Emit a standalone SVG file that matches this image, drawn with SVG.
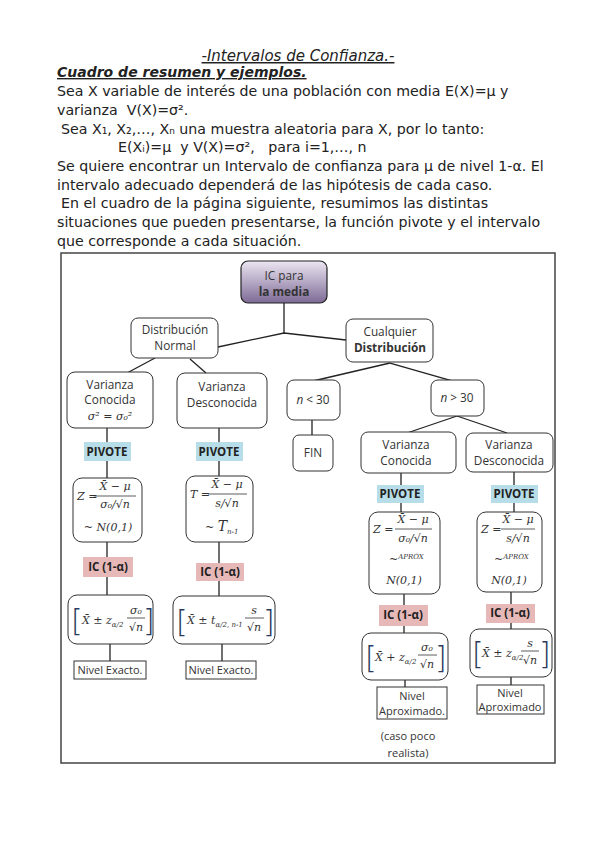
<svg xmlns="http://www.w3.org/2000/svg" width="599" height="848" viewBox="0 0 599 848">
<style>
.body{font-family:"DejaVu Sans",sans-serif;font-size:14.2px;fill:#222}
.nt{font-family:"Open Sans","Liberation Sans",sans-serif;font-size:11.8px;fill:#333;text-anchor:middle}
.sm{font-size:11px}
.b{font-weight:bold}
.rb{fill:#fff;stroke:#333;stroke-width:1}
.lbl{font-family:"Open Sans","Liberation Sans",sans-serif;font-size:11.5px;font-weight:bold;fill:#222;text-anchor:middle}
.piv{fill:#B7DDE8}
.ic{fill:#E6B9B8}
.m{font-family:"DejaVu Serif","Liberation Serif",serif;font-style:italic;font-size:11px;fill:#333}
.ms{font-family:"DejaVu Serif","Liberation Serif",serif;font-style:italic;font-size:7px;fill:#333}
.br{font-family:"DejaVu Sans",sans-serif;font-size:30px;font-weight:200;fill:#2A3A5E}
.bar{stroke:#333;stroke-width:0.8}
.cn line,.cn polyline{stroke:#222;stroke-width:1.3;fill:none}
</style>
<defs>
<linearGradient id="pg" x1="0" y1="0" x2="0" y2="1">
<stop offset="0" stop-color="#ECE6F2"/>
<stop offset="1" stop-color="#7D6A96"/>
</linearGradient>
</defs>
<rect width="599" height="848" fill="#fff"/>

<g id="header">
<text x="298" y="61" text-anchor="middle" font-family="DejaVu Sans,sans-serif" font-size="15" font-style="italic" fill="#222" text-decoration="underline">-Intervalos de Confianza.-</text>
<text x="57" y="77" font-family="DejaVu Sans,sans-serif" font-size="14" font-style="italic" font-weight="bold" fill="#222" text-decoration="underline">Cuadro de resumen y ejemplos.</text>
<text class="body" x="57" y="96">Sea X variable de interés de una población con media E(X)=μ y</text>
<text class="body" x="57" y="115" xml:space="preserve">varianza  V(X)=σ².</text>
<text class="body" x="61" y="134">Sea X₁, X₂,…, Xₙ una muestra aleatoria para X, por lo tanto:</text>
<text class="body" x="118" y="152" xml:space="preserve">E(Xᵢ)=μ  y V(X)=σ²,   para i=1,…, n</text>
<text class="body" x="57" y="171">Se quiere encontrar un Intervalo de confianza para μ de nivel 1-α. El</text>
<text class="body" x="57" y="190">intervalo adecuado dependerá de las hipótesis de cada caso.</text>
<text class="body" x="61" y="208">En el cuadro de la página siguiente, resumimos las distintas</text>
<text class="body" x="57" y="227">situaciones que pueden presentarse, la función pivote y el intervalo</text>
<text class="body" x="57" y="246">que corresponde a cada situación.</text>
</g>

<rect id="frame" x="61" y="253" width="494" height="510" fill="none" stroke="#444" stroke-width="1.5"/>

<g class="cn" id="connectors">
<line x1="284" y1="303" x2="284" y2="333"/>
<polyline points="218,347 284,333 346,340"/>
<line x1="155" y1="358" x2="127" y2="373"/>
<line x1="190" y1="359" x2="206" y2="373"/>
<line x1="390" y1="363" x2="313" y2="381"/>
<line x1="390" y1="363" x2="453" y2="381"/>
<line x1="457" y1="416" x2="407" y2="433"/>
<line x1="457" y1="416" x2="507" y2="433"/>
<line x1="312" y1="420" x2="312" y2="435"/>
<line x1="107" y1="428" x2="107" y2="442"/>
<line x1="219" y1="428" x2="219" y2="442"/>
<line x1="107" y1="461" x2="107" y2="478"/>
<line x1="219" y1="461" x2="219" y2="476"/>
<line x1="107" y1="542" x2="107" y2="557"/>
<line x1="219" y1="542" x2="219" y2="563"/>
<line x1="107" y1="577" x2="107" y2="595"/>
<line x1="219" y1="581" x2="219" y2="596"/>
<line x1="110" y1="644" x2="110" y2="661"/>
<line x1="222" y1="644" x2="222" y2="661"/>
<line x1="401" y1="473" x2="401" y2="486"/>
<line x1="514" y1="472" x2="514" y2="486"/>
<line x1="401" y1="503" x2="401" y2="512"/>
<line x1="514" y1="503" x2="514" y2="512"/>
<line x1="404" y1="594" x2="404" y2="605"/>
<line x1="511" y1="592" x2="511" y2="604"/>
<line x1="404" y1="626" x2="404" y2="633"/>
<line x1="511" y1="623" x2="511" y2="629"/>
<line x1="405" y1="680" x2="405" y2="687"/>
<line x1="511" y1="677" x2="511" y2="686"/>
</g>

<g id="root">
<rect x="241" y="261" width="86" height="42" rx="7" fill="url(#pg)" stroke="#222" stroke-width="1.2"/>
<text class="nt" x="284" y="280" fill="#111">IC para</text>
<text class="nt b" x="284" y="296">la media</text>
</g>

<g id="normal">
<rect class="rb" x="131" y="318" width="87" height="40" rx="7"/>
<text class="nt" x="175" y="334" fill="#1F3A68">Distribución</text>
<text class="nt" x="175" y="350">Normal</text>
</g>

<g id="cualquier">
<rect class="rb" x="346" y="319" width="87" height="43" rx="7"/>
<text class="nt" x="390" y="336">Cualquier</text>
<text class="nt b" x="390" y="352">Distribución</text>
</g>

<g id="var-con">
<rect class="rb" x="67" y="372" width="86" height="56" rx="8"/>
<text class="nt" x="110" y="389">Varianza</text>
<text class="nt" x="110" y="404">Conocida</text>
<text class="m" x="110" y="420" text-anchor="middle">σ² = σ₀²</text>
</g>

<g id="var-des">
<rect class="rb" x="177" y="373" width="90" height="55" rx="8"/>
<text class="nt" x="222" y="391">Varianza</text>
<text class="nt" x="222" y="407">Desconocida</text>
</g>

<g id="n-menor">
<rect class="rb" x="287" y="380" width="53" height="40" rx="7"/>
<text class="nt" x="313" y="404"><tspan font-style="italic">n</tspan> &lt; 30</text>
</g>

<g id="n-mayor">
<rect class="rb" x="431" y="380" width="53" height="36" rx="7"/>
<text class="nt" x="457" y="402"><tspan font-style="italic">n</tspan> &gt; 30</text>
</g>

<g id="fin">
<rect class="rb" x="293" y="435" width="40" height="36" rx="6"/>
<text class="nt" x="313" y="457">FIN</text>
</g>

<g id="var-con-r">
<rect class="rb" x="361" y="432" width="95" height="41" rx="7"/>
<text class="nt" x="406" y="449">Varianza</text>
<text class="nt" x="406" y="465">Conocida</text>
</g>

<g id="var-des-r">
<rect class="rb" x="466" y="433" width="87" height="39" rx="7"/>
<text class="nt" x="509" y="449">Varianza</text>
<text class="nt" x="509" y="465">Desconocida</text>
</g>

<g id="pivote1"><rect class="piv" x="84" y="442" width="47" height="19"/><text class="lbl" x="107" y="456">PIVOTE</text></g>
<g id="pivote2"><rect class="piv" x="196" y="442" width="47" height="19"/><text class="lbl" x="219" y="456">PIVOTE</text></g>
<g id="pivote3"><rect class="piv" x="377" y="485" width="47" height="18"/><text class="lbl" x="400" y="498">PIVOTE</text></g>
<g id="pivote4"><rect class="piv" x="491" y="485" width="47" height="18"/><text class="lbl" x="514" y="498">PIVOTE</text></g>

<g id="piv-f1">
<rect class="rb" x="73" y="478" width="69" height="64" rx="9"/>
<text class="m" x="77" y="500">Z =</text>
<text class="m" x="115" y="490" text-anchor="middle">X̄ − μ</text>
<line class="bar" x1="94" y1="496" x2="136" y2="496"/>
<text class="m" x="115" y="508" text-anchor="middle">σ₀/√n</text>
<text class="m" x="108" y="531" text-anchor="middle">~ N(0,1)</text>
</g>

<g id="piv-f2">
<rect class="rb" x="186" y="476" width="67" height="66" rx="9"/>
<text class="m" x="190" y="498">T =</text>
<text class="m" x="227" y="488" text-anchor="middle">X̄ − μ</text>
<line class="bar" x1="208" y1="494" x2="247" y2="494"/>
<text class="m" x="227" y="507" text-anchor="middle">s/√n</text>
<text class="m" x="205" y="531">~ <tspan font-size="14">T</tspan><tspan class="ms" dy="3">n-1</tspan></text>
</g>

<g id="piv-f3">
<rect class="rb" x="369" y="512" width="71" height="82" rx="9"/>
<text class="m" x="373" y="533">Z =</text>
<text class="m" x="413" y="523" text-anchor="middle">X̄ − μ</text>
<line class="bar" x1="395" y1="529" x2="432" y2="529"/>
<text class="m" x="413" y="542" text-anchor="middle">σ₀/√n</text>
<text class="m" x="389" y="563">~<tspan class="ms" dy="-4" font-style="normal" font-size="5">APROX</tspan></text>
<text class="m" x="404" y="584" text-anchor="middle">N(0,1)</text>
</g>

<g id="piv-f4">
<rect class="rb" x="477" y="512" width="65" height="80" rx="9"/>
<text class="m" x="481" y="533">Z =</text>
<text class="m" x="518" y="523" text-anchor="middle">X̄ − μ</text>
<line class="bar" x1="501" y1="529" x2="535" y2="529"/>
<text class="m" x="518" y="542" text-anchor="middle">s/√n</text>
<text class="m" x="494" y="563">~<tspan class="ms" dy="-4" font-style="normal" font-size="5">APROX</tspan></text>
<text class="m" x="509" y="584" text-anchor="middle">N(0,1)</text>
</g>

<g id="ic1"><rect class="ic" x="83" y="557" width="50" height="20"/><text class="lbl" x="108" y="571">IC (1-α)</text></g>
<g id="ic2"><rect class="ic" x="196" y="563" width="48" height="18"/><text class="lbl" x="220" y="576">IC (1-α)</text></g>
<g id="ic3"><rect class="ic" x="379" y="605" width="49" height="21"/><text class="lbl" x="403" y="619">IC (1-α)</text></g>
<g id="ic4"><rect class="ic" x="486" y="604" width="49" height="19"/><text class="lbl" x="510" y="617">IC (1-α)</text></g>

<g id="int1">
<rect class="rb" x="68" y="595" width="85" height="49" rx="9"/>
<text class="br" x="71" y="631">[</text>
<text class="m" x="82" y="624">X̄ ± z<tspan class="ms" dy="3">α/2</tspan></text>
<text class="m" x="136" y="614" text-anchor="middle">σ₀</text>
<line class="bar" x1="127" y1="618" x2="145" y2="618"/>
<text class="m" x="136" y="631" text-anchor="middle">√n</text>
<text class="br" x="143" y="631">]</text>
</g>

<g id="int2">
<rect class="rb" x="173" y="596" width="102" height="48" rx="9"/>
<text class="br" x="176" y="632">[</text>
<text class="m" x="187" y="624">X̄ ± t<tspan class="ms" dy="3">α/2, n-1</tspan></text>
<text class="m" x="254" y="614" text-anchor="middle">s</text>
<line class="bar" x1="245" y1="618" x2="264" y2="618"/>
<text class="m" x="254" y="631" text-anchor="middle">√n</text>
<text class="br" x="263" y="632">]</text>
</g>

<g id="int3">
<rect class="rb" x="362" y="633" width="86" height="47" rx="9"/>
<text class="br" x="365" y="668">[</text>
<text class="m" x="375" y="661">X̄ + z<tspan class="ms" dy="3">α/2</tspan></text>
<text class="m" x="427" y="651" text-anchor="middle">σ₀</text>
<line class="bar" x1="418" y1="655" x2="437" y2="655"/>
<text class="m" x="427" y="668" text-anchor="middle">√n</text>
<text class="br" x="435" y="668">]</text>
</g>

<g id="int4">
<rect class="rb" x="470" y="629" width="82" height="48" rx="9"/>
<text class="br" x="472" y="664">[</text>
<text class="m" x="482" y="657">X̄ ± z<tspan class="ms" dy="3">α/2</tspan></text>
<text class="m" x="530" y="647" text-anchor="middle">s</text>
<line class="bar" x1="521" y1="651" x2="539" y2="651"/>
<text class="m" x="530" y="664" text-anchor="middle">√n</text>
<text class="br" x="539" y="664">]</text>
</g>

<g id="exacto1"><rect class="rb" x="74" y="661" width="72" height="18" stroke-width="1.2"/><text class="nt sm" x="110" y="674">Nivel Exacto.</text></g>
<g id="exacto2"><rect class="rb" x="186" y="661" width="70" height="18" stroke-width="1.2"/><text class="nt sm" x="221" y="674">Nivel Exacto.</text></g>

<g id="aprox1">
<rect class="rb" x="377" y="687" width="70" height="32" stroke-width="1.3"/>
<text class="nt sm" x="412" y="700">Nivel</text>
<text class="nt sm" x="412" y="715">Aproximado.</text>
</g>
<g id="aprox2">
<rect class="rb" x="477" y="685" width="67" height="29" stroke-width="1.3"/>
<text class="nt sm" x="510" y="697">Nivel</text>
<text class="nt sm" x="510" y="711">Aproximado</text>
</g>
<g id="nota">
<text class="nt sm" x="408" y="740">(caso poco</text>
<text class="nt sm" x="408" y="757">realista)</text>
</g>
</svg>
